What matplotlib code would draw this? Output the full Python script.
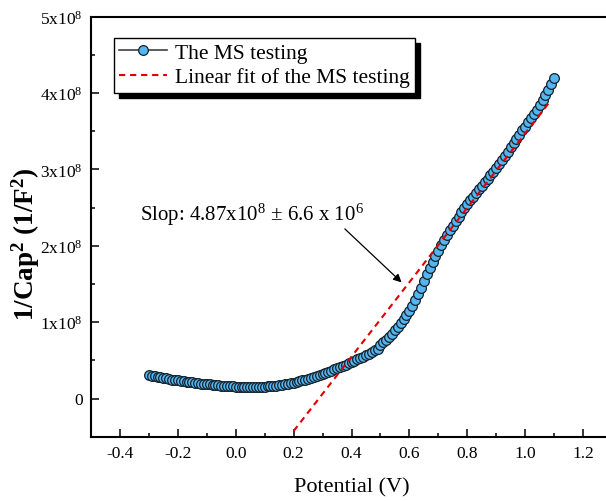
import matplotlib
matplotlib.use("Agg")
import matplotlib.pyplot as plt
from matplotlib.patches import Rectangle
from matplotlib.ticker import MultipleLocator, FixedLocator, FuncFormatter

plt.rcParams["font.family"] = ["Liberation Serif", "DejaVu Serif"]
plt.rcParams["mathtext.fontset"] = "custom"
plt.rcParams["mathtext.rm"] = "Liberation Serif"
plt.rcParams["mathtext.it"] = "Liberation Serif:italic"
plt.rcParams["mathtext.bf"] = "Liberation Serif:bold"
plt.rcParams["axes.unicode_minus"] = False

# Mott-Schottky measurement: potential (V) and 1/C^2 (in units of 1e8 F^-2)
potential = [
    -0.30, -0.29, -0.28, -0.27, -0.26, -0.25, -0.24, -0.23, -0.22, -0.21,
    -0.20, -0.19, -0.18, -0.17, -0.16, -0.15, -0.14, -0.13, -0.12, -0.11,
    -0.10, -0.09, -0.08, -0.07, -0.06, -0.05, -0.04, -0.03, -0.02, -0.01,
    0.00, 0.01, 0.02, 0.03, 0.04, 0.05, 0.06, 0.07, 0.08, 0.09,
    0.10, 0.11, 0.12, 0.13, 0.14, 0.15, 0.16, 0.17, 0.18, 0.19,
    0.20, 0.21, 0.22, 0.23, 0.24, 0.25, 0.26, 0.27, 0.28, 0.29,
    0.30, 0.31, 0.32, 0.33, 0.34, 0.35, 0.36, 0.37, 0.38, 0.39,
    0.40, 0.41, 0.42, 0.43, 0.44, 0.45, 0.46, 0.47, 0.48, 0.49,
    0.50, 0.51, 0.52, 0.53, 0.54, 0.55, 0.56, 0.57, 0.58, 0.59,
    0.60, 0.61, 0.62, 0.63, 0.64, 0.65, 0.66, 0.67, 0.68, 0.69,
    0.70, 0.71, 0.72, 0.73, 0.74, 0.75, 0.76, 0.77, 0.78, 0.79,
    0.80, 0.81, 0.82, 0.83, 0.84, 0.85, 0.86, 0.87, 0.88, 0.89,
    0.90, 0.91, 0.92, 0.93, 0.94, 0.95, 0.96, 0.97, 0.98, 0.99,
    1.00, 1.01, 1.02, 1.03, 1.04, 1.05, 1.06, 1.07, 1.08, 1.09,
    1.10,
]
inv_cap_sq = [
    0.310, 0.301, 0.293, 0.286, 0.278, 0.270, 0.263, 0.255, 0.248, 0.242,
    0.236, 0.230, 0.225, 0.220, 0.215, 0.210, 0.205, 0.200, 0.196, 0.192,
    0.188, 0.184, 0.180, 0.176, 0.172, 0.169, 0.166, 0.163, 0.160, 0.158,
    0.156, 0.154, 0.153, 0.152, 0.151, 0.151, 0.151, 0.152, 0.153, 0.155,
    0.157, 0.160, 0.163, 0.166, 0.170, 0.175, 0.181, 0.187, 0.194, 0.201,
    0.209, 0.218, 0.227, 0.237, 0.248, 0.259, 0.270, 0.282, 0.295, 0.308,
    0.322, 0.336, 0.351, 0.366, 0.381, 0.396, 0.412, 0.428, 0.444, 0.460,
    0.477, 0.494, 0.512, 0.530, 0.549, 0.568, 0.588, 0.609, 0.631, 0.654,
    0.700, 0.735, 0.770, 0.808, 0.850, 0.893, 0.938, 0.985, 1.036, 1.090,
    1.150, 1.215, 1.288, 1.368, 1.452, 1.540, 1.625, 1.708, 1.786, 1.860,
    1.935, 2.005, 2.072, 2.138, 2.202, 2.264, 2.324, 2.382, 2.438, 2.492,
    2.544, 2.594, 2.643, 2.691, 2.738, 2.784, 2.830, 2.876, 2.922, 2.968,
    3.018, 3.070, 3.123, 3.177, 3.232, 3.288, 3.344, 3.400, 3.455, 3.508,
    3.560, 3.614, 3.668, 3.724, 3.782, 3.842, 3.904, 3.968, 4.034, 4.110,
    4.190,
]

# Linear fit of the depletion region
fit_slope = 4.87e8
fit_intercept = -1.40e8
fit_range = [0.20, 1.08]

scale = 1e8
y_vals = [v * scale for v in inv_cap_sq]

fig = plt.figure(figsize=(6.06, 5.02), dpi=100)
ax = fig.add_axes([91 / 606, 1 - 437.7 / 502, 521 / 606, (437.7 - 17.5) / 502])

ax.plot(potential, y_vals, color="#404040", lw=1.2, marker="o", ms=7,
        mfc="#55b5ee", mec="#15222e", mew=0.9, label="The MS testing", zorder=3)
fit_y = [fit_slope * x + fit_intercept for x in fit_range]
ax.plot(fit_range, fit_y, color="#e00000", lw=1.5, ls=(0, (3, 2.3)),
        label="Linear fit of the MS testing", zorder=4)

ax.set_xlim(-0.5, 1.3)
ax.set_ylim(-0.5e8, 5e8)
ax.xaxis.set_major_locator(MultipleLocator(0.2))
ax.xaxis.set_minor_locator(MultipleLocator(0.1))
ax.xaxis.set_major_formatter(FuncFormatter(lambda v, p: f"{v:.1f}"))
ax.yaxis.set_major_locator(FixedLocator([0, 1e8, 2e8, 3e8, 4e8, 5e8]))
ax.yaxis.set_minor_locator(FixedLocator([0.5e8, 1.5e8, 2.5e8, 3.5e8, 4.5e8]))


def yfmt(v, p):
    n = int(round(v / 1e8))
    return "0" if n == 0 else f"{n}x10$^{{8}}$"


ax.yaxis.set_major_formatter(FuncFormatter(yfmt))
ax.tick_params(which="both", direction="in", top=False, right=False,
               labelsize=12.5, width=1.1, pad=6)
ax.tick_params(which="major", length=6)
ax.tick_params(which="minor", length=3)
for s in ax.spines.values():
    s.set_linewidth(1.5)

ax.set_xlabel("Potential (V)", fontsize=16, labelpad=12)
ax.set_ylabel(r"1/Cap$^{\mathbf{2}}$ (1/F$^{\mathbf{2}}$)", fontsize=19.5,
              fontweight="bold")
ax.yaxis.set_label_coords(-0.094, 0.46)

leg = ax.legend(loc="upper left", bbox_to_anchor=(0.044, 0.95), fontsize=15.5,
                frameon=True, fancybox=False, framealpha=1, edgecolor="black",
                borderpad=0.25, labelspacing=0.2, handlelength=2.2,
                handletextpad=0.4, borderaxespad=0)
leg.get_frame().set_linewidth(1.0)

ax.annotate("", xy=(0.573, 1.52e8), xytext=(0.377, 2.22e8),
            arrowprops=dict(arrowstyle="-|>", color="black", lw=0.9,
                            mutation_scale=12, shrinkA=0, shrinkB=0))
ax.text(-0.33, 2.42e8, r"Slop: 4.87x10$^8$ $\pm$ 6.6 x 10$^6$", fontsize=15,
        va="center", ha="left")

# solid drop shadow behind the legend box
fig.canvas.draw()
bb = leg.get_frame().get_window_extent()
shadow = Rectangle((bb.x0 + 5, bb.y0 - 5), bb.width, bb.height,
                   transform=None, facecolor="black", edgecolor="black",
                   zorder=leg.get_zorder() - 0.01)
ax.add_artist(shadow)

fig.savefig("out.png", dpi=100)
